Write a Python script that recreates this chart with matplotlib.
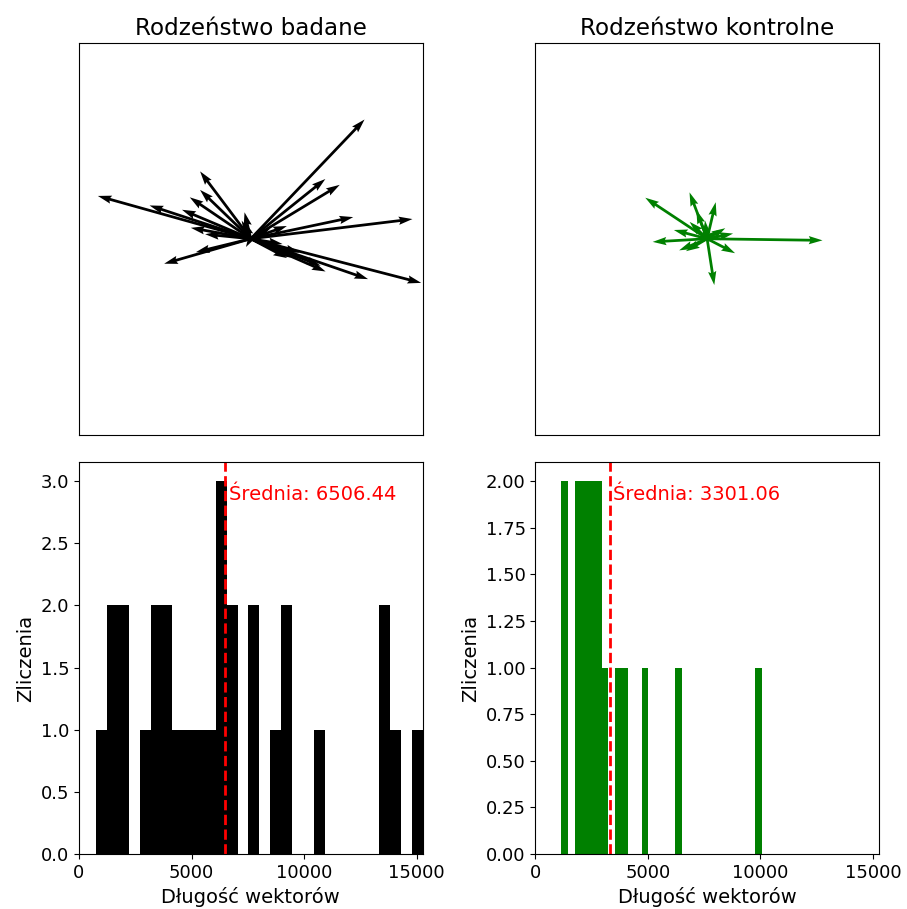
import matplotlib
matplotlib.use('Agg')
import matplotlib.pyplot as plt
import numpy as np

# dlugosci i katy (stopnie) wektorow - rodzenstwo badane
len_badane = [15266, 14200, 13750, 13500, 10700, 9200, 7800, 8800, 7960.76,
              9100, 6800, 6400, 6200, 5800, 4900, 5300, 6450, 3800, 2800,
              3300, 1600, 1400, 760, 1900, 2100, 3500, 4000, 4400, 7000]
ang_badane = [-12.8, 6.1, 166.2, 42.6, -16.8, 163.9, 194.2, 28.0, 35.1,
              10.5, 130.6, 159.7, 149.2, 139.8, 192.1, 170.9, -18.7, -22.3, -8.3,
              17.2, 119.7, 112.1, 236.5, 25.0, 105.0, -25.0, 175.0, -14.0, -21.0]

# rodzenstwo kontrolne
len_kontr = [10078, 6250, 3870, 3602, 4760, 2680, 2080, 2980, 2300, 1780,
             1400, 2380, 2000, 1157, 2600, 2900]
ang_kontr = [-0.7, 149.8, 113.4, -80.0, 182.9, -24.4, 207.3, 167.0, 10.0, 27.0,
             97.4, 113.3, 139.7, 34.7, 200.0, 75.0]

plt.rcParams['font.size'] = 14
plt.rcParams['xtick.labelsize'] = 13
plt.rcParams['ytick.labelsize'] = 13

fig, axs = plt.subplots(2, 2, figsize=(9.07, 9.09), dpi=100)
fig.subplots_adjust(left=0.0871, right=0.969, top=0.9527, bottom=0.0605,
                    wspace=0.3285, hspace=0.0715)

lmax = max(max(len_badane), max(len_kontr))
qlim = 15000

def uv(lens, angs):
    l = np.array(lens, dtype=float)
    a = np.deg2rad(np.array(angs, dtype=float))
    return l * np.cos(a), l * np.sin(a)

groups = [('Rodzeństwo badane', len_badane, ang_badane, 'black'),
          ('Rodzeństwo kontrolne', len_kontr, ang_kontr, 'green')]

for i, (title, lens, angs, col) in enumerate(groups):
    ax = axs[0, i]
    u, v = uv(lens, angs)
    n = len(lens)
    ax.quiver(np.zeros(n), np.zeros(n), u, v, angles='xy', scale_units='xy',
              scale=1, color=col, width=0.008)
    ax.set_xlim(-qlim, qlim)
    ax.set_ylim(-qlim, qlim)
    ax.set_xticks([])
    ax.set_yticks([])
    ax.set_title(title, fontsize=16.6)

    ax = axs[1, i]
    counts, _, _ = ax.hist(lens, bins=30, color=col)
    mean = np.mean(lens)
    ax.axvline(mean, color='red', linestyle='--', linewidth=2)
    ax.text(mean + 150, 0.95 * counts.max(), f'Średnia: {mean:.2f}', color='red')
    ax.set_xlim(0, lmax)
    ax.set_xlabel('Długość wektorów')
    ax.set_ylabel('Zliczenia')

plt.savefig('out.png', dpi=100)
